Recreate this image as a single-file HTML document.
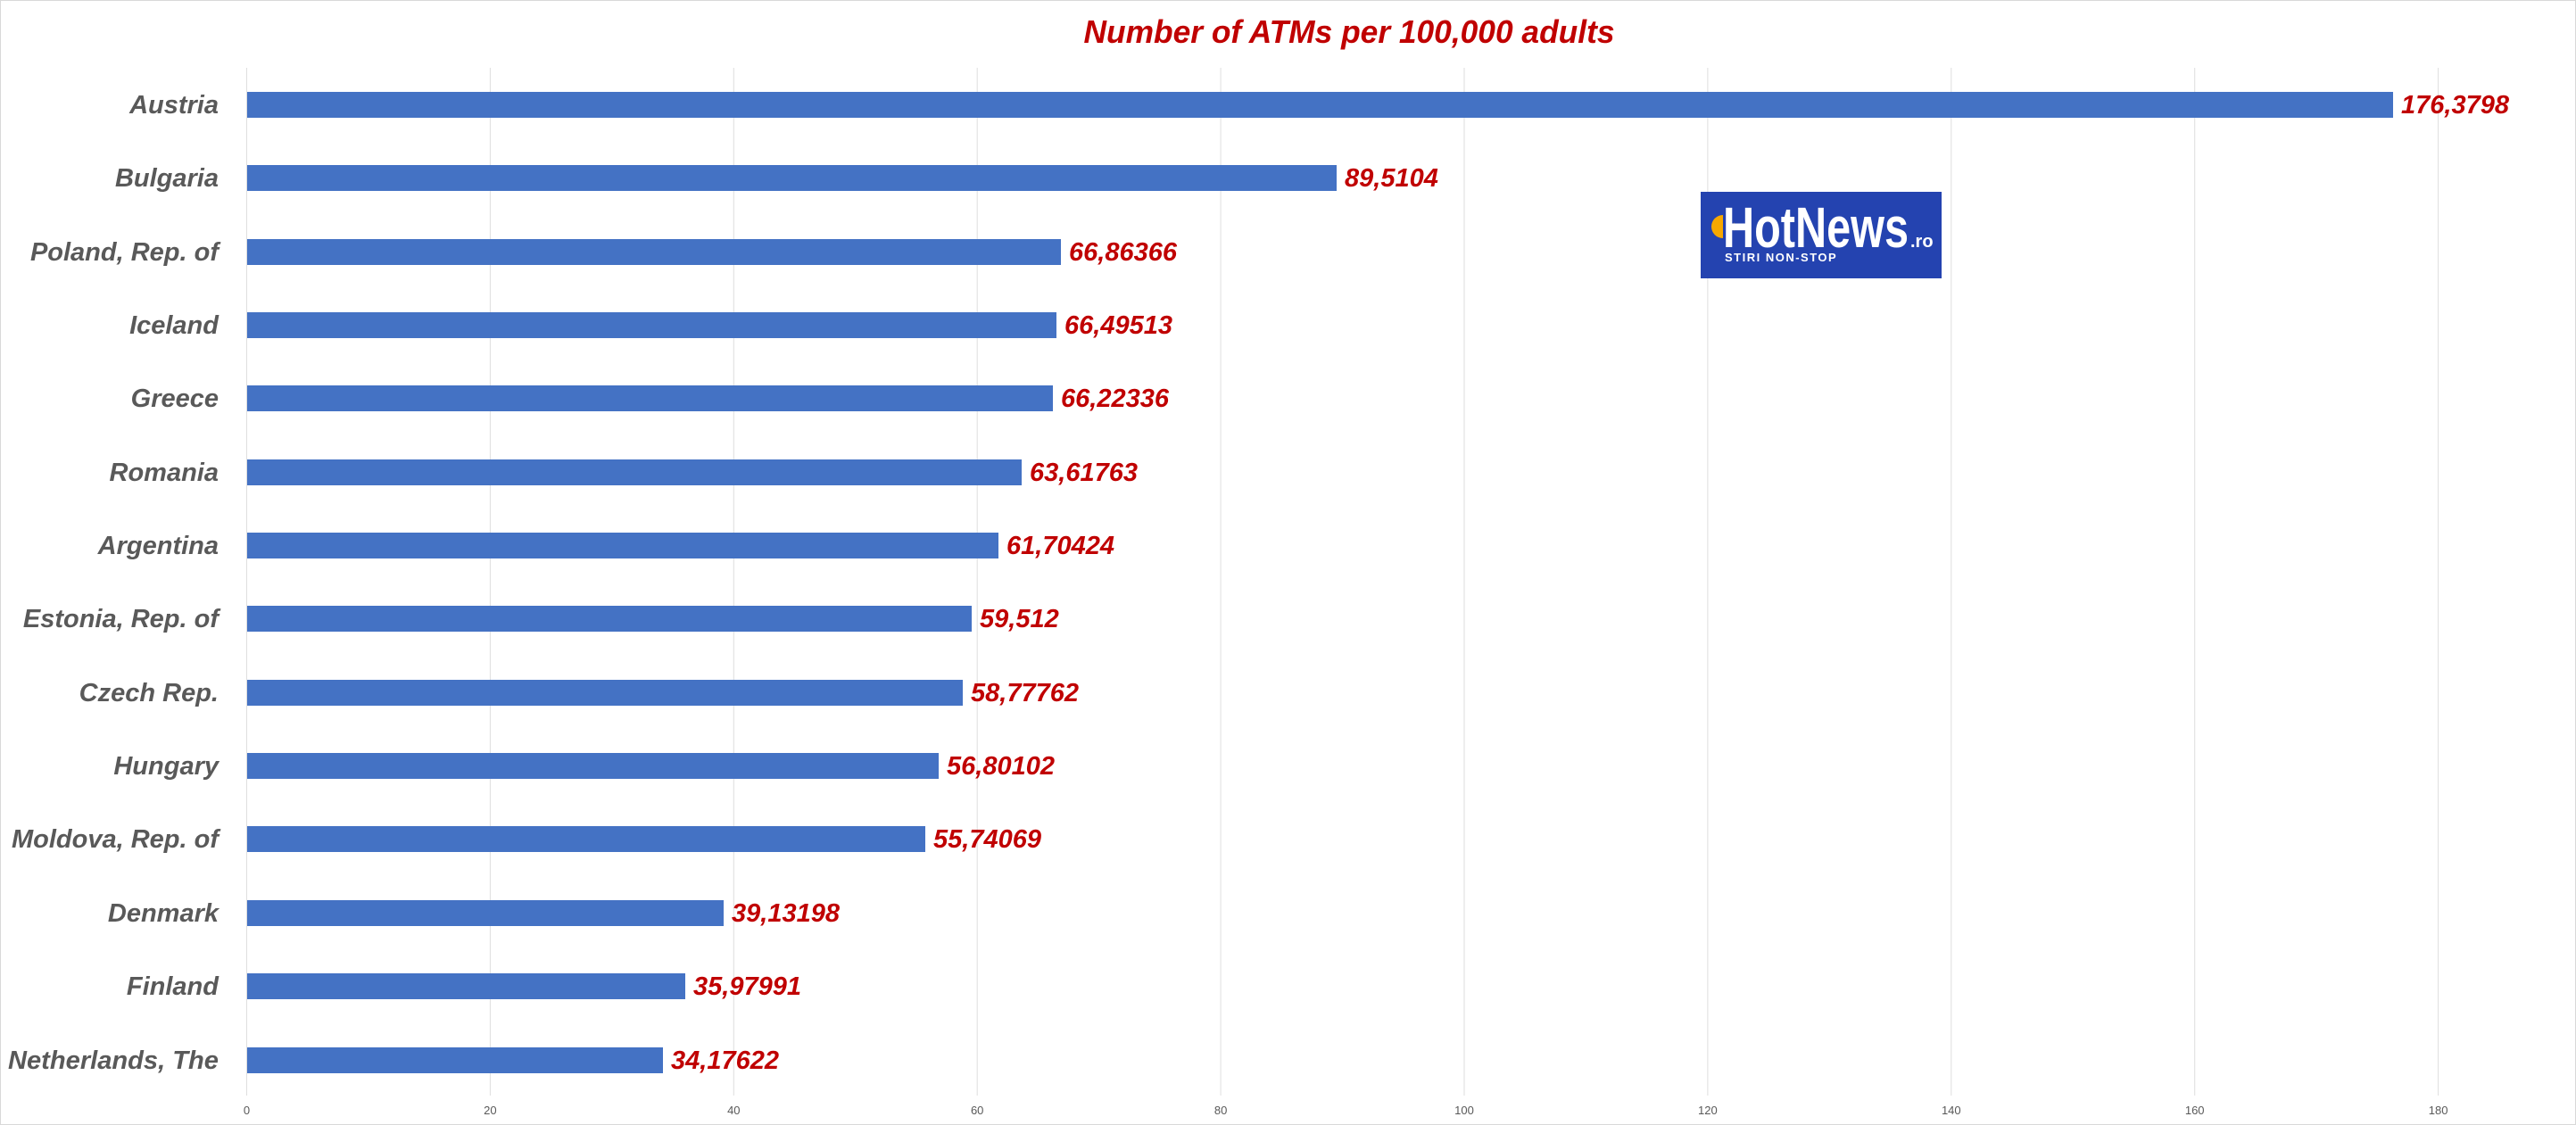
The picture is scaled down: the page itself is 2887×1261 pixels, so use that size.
<!DOCTYPE html>
<html><head><meta charset="utf-8"><style>
html,body{margin:0;padding:0;background:#fff;}
svg{display:block;}
</style></head><body>
<svg width="2887" height="1261" viewBox="0 0 2887 1261" xmlns="http://www.w3.org/2000/svg" font-family="Liberation Sans, sans-serif">
<rect x="0.5" y="0.5" width="2886" height="1260" fill="#fff" stroke="#d9d9d9"/>
<text x="1512" y="48" text-anchor="middle" font-size="36" font-weight="bold" font-style="italic" fill="#c00000" textLength="595" lengthAdjust="spacingAndGlyphs">Number of ATMs per 100,000 adults</text>
<g stroke="#dedede" stroke-width="1">
<line x1="276.5" y1="76" x2="276.5" y2="1228"/>
<line x1="549.4" y1="76" x2="549.4" y2="1228"/>
<line x1="822.3" y1="76" x2="822.3" y2="1228"/>
<line x1="1095.2" y1="76" x2="1095.2" y2="1228"/>
<line x1="1368.1" y1="76" x2="1368.1" y2="1228"/>
<line x1="1641" y1="76" x2="1641" y2="1228"/>
<line x1="1913.9" y1="76" x2="1913.9" y2="1228"/>
<line x1="2186.8" y1="76" x2="2186.8" y2="1228"/>
<line x1="2459.7" y1="76" x2="2459.7" y2="1228"/>
<line x1="2732.6" y1="76" x2="2732.6" y2="1228"/>
</g>
<g font-size="13" fill="#595959" text-anchor="middle">
<text x="276.5" y="1249">0</text><text x="549.4" y="1249">20</text><text x="822.3" y="1249">40</text><text x="1095.2" y="1249">60</text><text x="1368.1" y="1249">80</text><text x="1641" y="1249">100</text><text x="1913.9" y="1249">120</text><text x="2186.8" y="1249">140</text><text x="2459.7" y="1249">160</text><text x="2732.6" y="1249">180</text>
</g>
<g fill="#4472c4">
<rect x="277" y="103" width="2405" height="29"/>
<rect x="277" y="185" width="1221" height="29"/>
<rect x="277" y="268" width="912" height="29"/>
<rect x="277" y="350" width="907" height="29"/>
<rect x="277" y="432" width="903" height="29"/>
<rect x="277" y="515" width="868" height="29"/>
<rect x="277" y="597" width="842" height="29"/>
<rect x="277" y="679" width="812" height="29"/>
<rect x="277" y="762" width="802" height="29"/>
<rect x="277" y="844" width="775" height="29"/>
<rect x="277" y="926" width="760" height="29"/>
<rect x="277" y="1009" width="534" height="29"/>
<rect x="277" y="1091" width="491" height="29"/>
<rect x="277" y="1174" width="466" height="29"/>
</g>
<g font-size="29" font-weight="bold" font-style="italic" fill="#595959" text-anchor="end">
<text x="245" y="127">Austria</text>
<text x="245" y="209">Bulgaria</text>
<text x="245" y="292">Poland, Rep. of</text>
<text x="245" y="374">Iceland</text>
<text x="245" y="456">Greece</text>
<text x="245" y="539">Romania</text>
<text x="245" y="621">Argentina</text>
<text x="245" y="703">Estonia, Rep. of</text>
<text x="245" y="786">Czech Rep.</text>
<text x="245" y="868">Hungary</text>
<text x="245" y="950">Moldova, Rep. of</text>
<text x="245" y="1033">Denmark</text>
<text x="245" y="1115">Finland</text>
<text x="245" y="1198" textLength="236" lengthAdjust="spacingAndGlyphs">Netherlands, The</text>
</g>
<g font-size="29" font-weight="bold" font-style="italic" fill="#c00000">
<text x="2691" y="127">176,3798</text>
<text x="1507" y="209">89,5104</text>
<text x="1198" y="292">66,86366</text>
<text x="1193" y="374">66,49513</text>
<text x="1189" y="456">66,22336</text>
<text x="1154" y="539">63,61763</text>
<text x="1128" y="621">61,70424</text>
<text x="1098" y="703">59,512</text>
<text x="1088" y="786">58,77762</text>
<text x="1061" y="868">56,80102</text>
<text x="1046" y="950">55,74069</text>
<text x="820" y="1033">39,13198</text>
<text x="777" y="1115">35,97991</text>
<text x="752" y="1198">34,17622</text>
</g>
<rect x="1906" y="215" width="270" height="97" fill="#2443b0"/>
<circle cx="1931" cy="254" r="13" fill="#f7a800"/>
<rect x="1931" y="238" width="12" height="32" fill="#2443b0"/>
<text x="1931" y="277" font-size="64" font-weight="bold" fill="#fff" textLength="208" lengthAdjust="spacingAndGlyphs">HotNews</text>
<text x="2141" y="277" font-size="20" font-weight="bold" fill="#fff">.ro</text>
<text x="1933" y="293" font-size="13" font-weight="bold" fill="#fff" letter-spacing="1.5">STIRI NON-STOP</text>
</svg>
</body></html>
